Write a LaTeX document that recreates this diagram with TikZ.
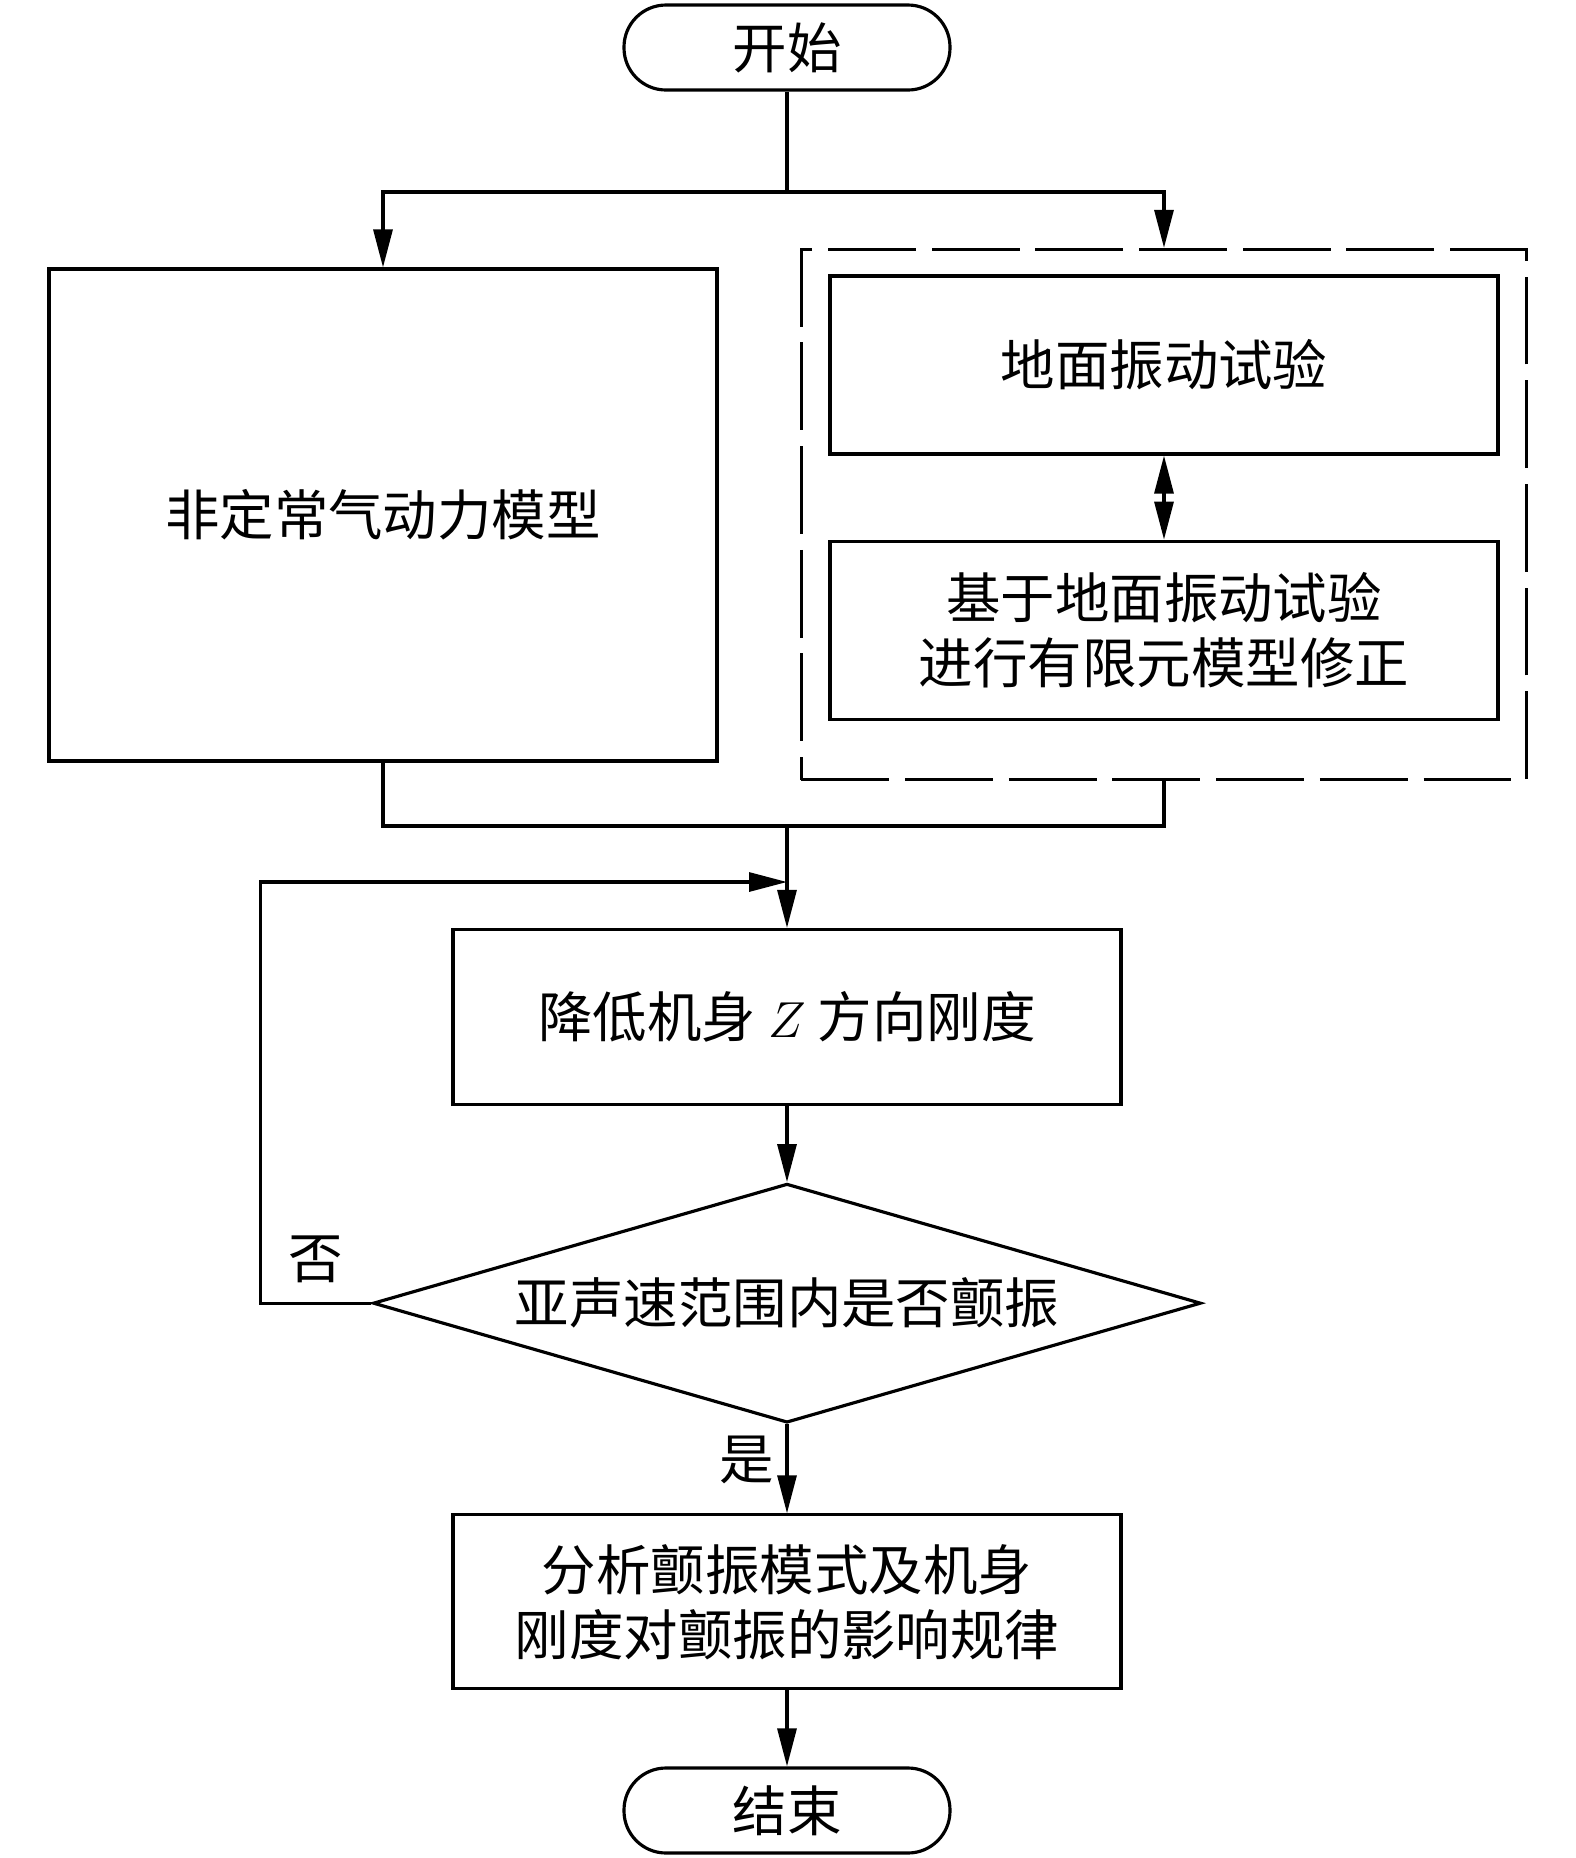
\documentclass[tikz,border=0pt]{standalone}
\usepackage{fontspec}
\newfontfamily\cjk{Noto Sans CJK SC}
\usepackage{tikz}
\usetikzlibrary{positioning, shapes.geometric, arrows.meta, calc, fit}

\begin{document}
\begin{tikzpicture}[
                textfont/.style={font=\cjk\fontsize{15.5pt}{18.5pt}\selectfont},
                block/.style={draw=black, line width=0.9pt, rectangle, minimum width=6.68cm, align=center, textfont},
                terminal/.style={draw=black, line width=0.9pt, rectangle, rounded corners=0.42cm, minimum width=3.26cm, minimum height=0.85cm, textfont},
                decision/.style={draw=black, line width=0.9pt, diamond, aspect=3.46, minimum width=8.28cm, minimum height=2.39cm, inner sep=0pt, textfont},
                grpframe/.style={draw=black, line width=0.9pt, dash pattern=on 25pt off 4.5pt, rectangle},
                edge/.style={line width=0.9pt},
                arrow/.style={edge, -{Triangle[length=0.38cm, width=0.19cm]}},
                twoway/.style={edge, {Triangle[length=0.38cm, width=0.19cm]}-{Triangle[length=0.38cm, width=0.19cm]}},
                sidelabel/.style={textfont}
            ]

            \useasboundingbox (0,0) rectangle (15.75,-18.58);

            % Knoten
            \node[terminal] (start) at (7.87,-0.475) {开始};
            \node[block, minimum height=4.92cm] (aero) at (3.83,-5.15) {非定常气动力模型};
            \node[block, minimum height=1.78cm] (gvt) at (11.64,-3.65) {地面振动试验};
            \node[block, minimum height=1.78cm, below=0.84cm of gvt] (fem) {基于地面振动试验\\进行有限元模型修正};
            \coordinate (grppad) at ([yshift=-0.34cm]fem.south);
            \node[grpframe, fit=(gvt)(fem)(grppad), inner xsep=0.27cm, inner ysep=0.25cm] (grp) {};
            \node[block, minimum height=1.75cm] (stiff) at (7.87,-10.17) {降低机身 $Z$ 方向刚度};
            \node[decision, below=0.76cm of stiff] (flut) {亚声速范围内是否颤振};
            \node[block, minimum height=1.74cm, below=0.89cm of flut] (ana) {分析颤振模式及机身\\刚度对颤振的影响规律};
            \node[terminal, below=0.76cm of ana] (end) {结束};

            \coordinate (split) at (7.87,-1.92);
            \coordinate (merge) at (7.87,-8.26);
            \coordinate (loop) at (7.87,-8.82);

            % Kanten zwischen Knoten
            \draw[edge] (start.south) -- (split);
            \draw[arrow] (split) -| (aero.north);
            \draw[arrow] (split) -| (grp.north);
            \draw[twoway] (gvt.south) -- (fem.north);
            \draw[edge] (aero.south) |- (merge) -| (grp.south);
            \draw[arrow] (merge) -- (stiff.north);
            \draw[arrow] (stiff.south) -- (flut.north);
            \draw[arrow] (flut.west) -- ++(-1.11,0) node[midway, above=2pt, sidelabel] {否} |- (loop);
            \draw[arrow] (flut.south) -- (ana.north) node[pos=0.4, left, sidelabel] {是};
            \draw[arrow] (ana.south) -- (end.north);

        \end{tikzpicture}
\end{document}
